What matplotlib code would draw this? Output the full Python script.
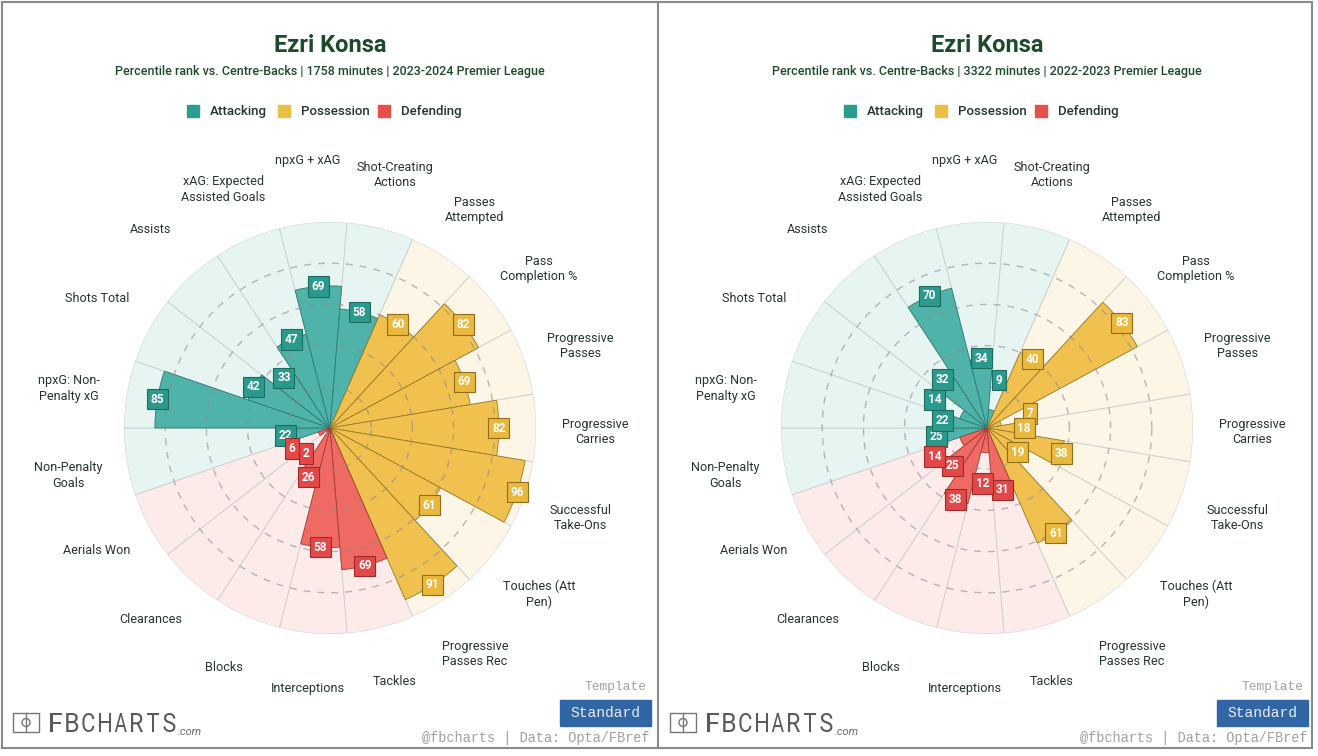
import numpy as np
import matplotlib
matplotlib.use('Agg')
from matplotlib import pyplot as plt
from matplotlib.patches import Rectangle, Circle, PathPatch
from matplotlib.lines import Line2D
from matplotlib.textpath import TextPath
from matplotlib.font_manager import FontProperties
from matplotlib.transforms import Affine2D, IdentityTransform

# Data
player = 'Ezri Konsa'
params = ['Non-Penalty\nGoals', 'npxG: Non-\nPenalty xG', 'Shots Total', 'Assists',
          'xAG: Expected\nAssisted Goals', 'npxG + xAG', 'Shot-Creating\nActions',
          'Passes\nAttempted', 'Pass\nCompletion %', 'Progressive\nPasses',
          'Progressive\nCarries', 'Successful\nTake-Ons', 'Touches (Att\nPen)',
          'Progressive\nPasses Rec', 'Tackles', 'Interceptions', 'Blocks',
          'Clearances', 'Aerials Won']
groups = ['Attacking'] * 7 + ['Possession'] * 7 + ['Defending'] * 5
values_2324 = [22, 85, 42, 33, 47, 69, 58, 60, 82, 69, 82, 96, 61, 91, 69, 58, 26, 2, 6]
values_2223 = [25, 22, 14, 32, 70, 34, 9, 40, 83, 7, 18, 38, 19, 61, 31, 12, 38, 25, 14]
minutes = [1758, 3322]
seasons = ['2023-2024', '2022-2023']
legend_names = ['Attacking', 'Possession', 'Defending']

# Styling
W, H = 1318, 756
plt.rcParams['font.family'] = ['Roboto', 'DejaVu Sans']
bar_col = {'Attacking': '#4fb3a9', 'Possession': '#f1c14f', 'Defending': '#ef6a62'}
edge_col = {'Attacking': '#2f7a71', 'Possession': '#9a7a25', 'Defending': '#a33c36'}
box_col = {'Attacking': '#2a9a8c', 'Possession': '#e9b83c', 'Defending': '#e24848'}
box_edge = {'Attacking': '#1f6a61', 'Possession': '#8f6d1c', 'Defending': '#9e2a2a'}
bg_col = {'Attacking': '#e6f5f2', 'Possession': '#fdf6e6', 'Defending': '#fdebea'}
leg_col = {'Attacking': '#2a9d8f', 'Possession': '#eabf45', 'Defending': '#e5514a'}
title_col = '#1c4a2b'
text_col = '#25352e'


def fx(x):
    return x / W


def fy(y):
    return 1 - y / H


fig = plt.figure(figsize=(W / 100, H / 100), dpi=100)
fig.patch.set_facecolor('white')


def draw_panel(xo, values, mins, season):
    cx, cy, R = 330 + xo, 428, 206
    n = len(values)
    w = 360 / n
    ang = 180 + w / 2 - np.arange(n) * w
    theta = np.deg2rad(ang)

    ax = fig.add_axes([fx(cx - R), fy(cy + R), 2 * R / W, 2 * R / H], projection='polar')
    ax.set_ylim(0, 100)
    ax.axis('off')

    # background slices
    ax.bar(theta, [100] * n, width=np.deg2rad(w), color=[bg_col[g] for g in groups],
           edgecolor='#c8d0cd', linewidth=0.6, zorder=1)
    # value bars
    ax.bar(theta, values, width=np.deg2rad(w), color=[bar_col[g] for g in groups],
           edgecolor=[edge_col[g] for g in groups], linewidth=0.6, zorder=2)
    # dashed rings
    t = np.linspace(0, 2 * np.pi, 500)
    for r in [20, 40, 60, 80]:
        ax.plot(t, [r] * len(t), color='#8c8c8c', lw=1.0, ls=(0, (5, 5)), alpha=0.6, zorder=3)

    for i in range(n):
        v = values[i]
        g = groups[i]
        r_lab = v + 15 if v < 15 else v
        ax.text(theta[i], r_lab, str(v), ha='center', va='center', color='white',
                fontsize=8.5, fontweight='bold', zorder=6,
                bbox=dict(boxstyle='square,pad=0.32', fc=box_col[g], ec=box_edge[g], lw=0.8))
        # category label, placed in pixels around the centre
        lx = cx + 265 * np.cos(theta[i])
        ly = cy - 265 * np.sin(theta[i])
        ly += 4 if '\n' in params[i] else -3.5
        fig.text(fx(lx), fy(ly), params[i], ha='center', va='center', color=text_col,
                 fontsize=9.1, linespacing=1.25)

    # title and subtitle
    fig.text(fx(330 + xo), fy(45), player, ha='center', va='center', fontsize=17,
             fontweight='bold', color=title_col)
    fig.text(fx(330 + xo), fy(72),
             f'Percentile rank vs. Centre-Backs | {mins} minutes | {season} Premier League',
             ha='center', va='center', fontsize=9, fontweight='medium', color=title_col)

    # legend
    for sq_x, name in zip([187, 278, 378], legend_names):
        fig.add_artist(Rectangle((fx(sq_x + xo), fy(117)), 12 / W, 12 / H,
                                 transform=fig.transFigure, color=leg_col[name]))
        fig.text(fx(sq_x + xo + 23), fy(111.5), name, ha='left', va='center', fontsize=9.5,
                 fontweight='medium', color=text_col)

    # footer
    fig.text(fx(647 + xo), fy(687), 'Template', ha='right', va='center', fontsize=9.3,
             family='Liberation Mono', color='#a0a0a0')
    fig.add_artist(Rectangle((fx(560 + xo), fy(726)), 91 / W, 26 / H,
                             transform=fig.transFigure, color='#3066a6'))
    fig.text(fx(605.5 + xo), fy(713), 'Standard', ha='center', va='center', fontsize=10.5,
             family='Liberation Mono', color='#e6ecf5')
    fig.text(fx(650 + xo), fy(738), '@fbcharts | Data: Opta/FBref', ha='right', va='center',
             fontsize=9.8, family='Liberation Mono', color='#a0a0a0')

    # logo: pitch icon
    fig.add_artist(Rectangle((fx(13 + xo), fy(732)), 26 / W, 19 / H, transform=fig.transFigure,
                             fill=False, ec='#777777', lw=1.0))
    fig.add_artist(Line2D([fx(26 + xo)] * 2, [fy(713), fy(732)], transform=fig.transFigure,
                          color='#777777', lw=1.0))
    fig.add_artist(Circle((26 + xo, H - 722.5), 4, transform=IdentityTransform(),
                          fill=False, ec='#777777', lw=1.0))
    # logo: condensed word mark, one letter at a time
    lp = FontProperties(family='Roboto')
    for k, ch in enumerate('FBCHARTS'):
        tp = TextPath((0, 0), ch, size=20, prop=lp)
        ext = tp.get_extents()
        x0 = 50 + k * 16.2 + xo
        tr = Affine2D().translate(-ext.x0, -ext.y0).scale(12 / ext.width, 19 / ext.height) \
            .translate(x0, H - 732)
        fig.add_artist(PathPatch(tr.transform_path(tp), transform=IdentityTransform(),
                                 fc='#5a5a5a', ec='none'))
    fig.text(fx(178 + xo), fy(735), '.com', ha='left', va='baseline', fontsize=8,
             style='italic', color='#6a6a6a')


draw_panel(0, values_2324, minutes[0], seasons[0])
draw_panel(657, values_2223, minutes[1], seasons[1])

# frame and divider
fig.add_artist(Rectangle((fx(2), fy(748)), 1310 / W, 746.5 / H, transform=fig.transFigure,
                         fill=False, ec='#8a8a8a', lw=1.5))
fig.add_artist(Line2D([fx(657.5)] * 2, [fy(1.5), fy(748)], transform=fig.transFigure,
                      color='#8a8a8a', lw=1.5))

fig.savefig('out.png', dpi=100, facecolor='white')
